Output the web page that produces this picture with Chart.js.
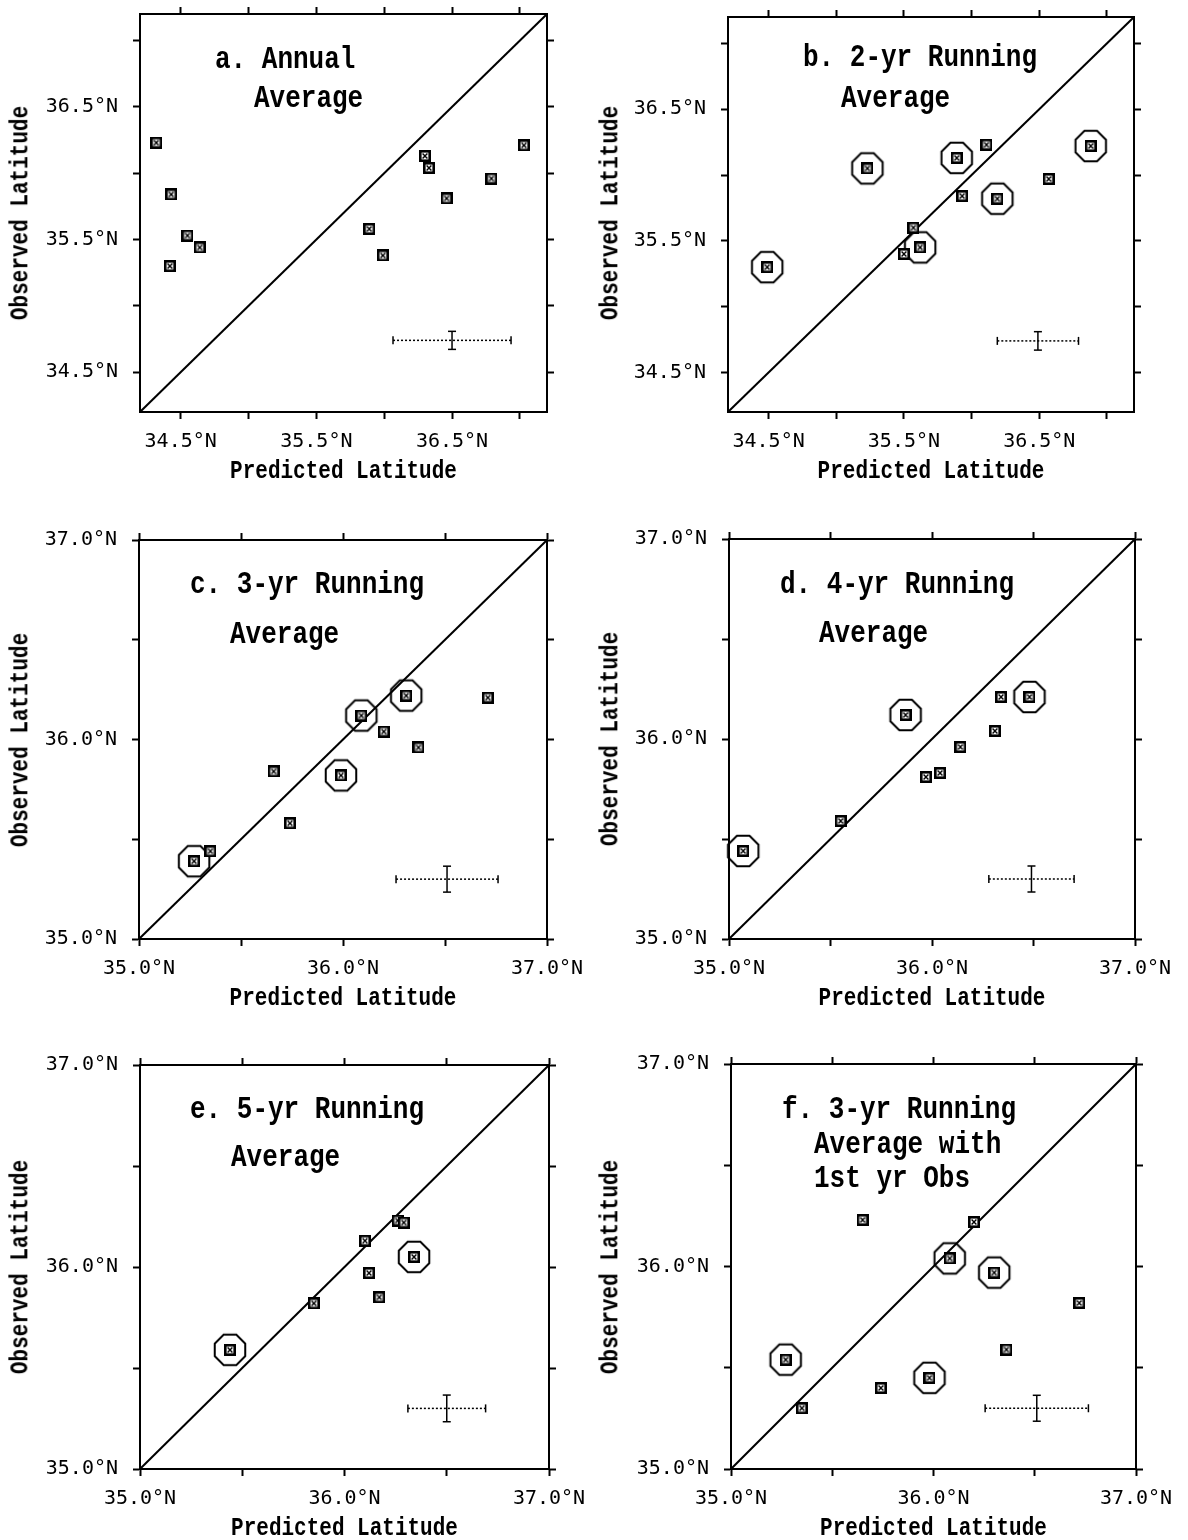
<!DOCTYPE html>
<html>
<head>
<meta charset="utf-8">
<script src="https://cdn.jsdelivr.net/npm/chart.js@4.4.0/dist/chart.umd.min.js"></script>
<style>
    body { margin: 0; background: #fff; }
    #page { position: relative; width: 1188px; height: 1540px; overflow: hidden; }
    .panel { position: absolute; width: 594px; }
    .label, .axis-title {
        position: absolute;
        font-family: 'Liberation Mono', monospace;
        font-weight: bold;
        white-space: pre;
        color: #000;
    }
    .label { font-size: 26px; line-height: 26px; transform: scaleY(1.2); }
    .axis-title { font-size: 21px; line-height: 22px; }
</style>
</head>
<body>
<div id="page"></div>
<script>
// Оси
const rangeAB = [34.2, 37.2];
const rangeCF = [35.0, 37.0];
const ticksAB = [34.5, 35.0, 35.5, 36.0, 36.5, 37.0];
const labelsAB = [34.5, 35.5, 36.5];
const ticksCF = [35.0, 35.5, 36.0, 36.5, 37.0];
const labelsCF = [35.0, 36.0, 37.0];

// a. Annual Average
const predA = [34.32, 34.43, 34.55, 34.64, 34.42, 35.89, 35.99, 36.30, 36.33, 36.46, 36.79, 37.03];
const obsA  = [36.23, 35.84, 35.53, 35.44, 35.30, 35.58, 35.38, 36.13, 36.04, 35.81, 35.96, 36.21];
const ringA = [0, 0, 0, 0, 0, 0, 0, 0, 0, 0, 0, 0];

// b. 2-yr
const predB = [34.49, 35.23, 35.89, 36.11, 35.93, 36.19, 36.57, 36.88, 35.57, 35.62, 35.50];
const obsB  = [35.30, 36.05, 36.13, 36.23, 35.84, 35.82, 35.97, 36.22, 35.60, 35.45, 35.40];
const ringB = [1, 1, 1, 0, 0, 1, 0, 1, 0, 1, 0];

// c. 3-yr
const predC = [35.27, 35.35, 35.66, 35.74, 35.99, 36.09, 36.20, 36.31, 36.37, 36.71];
const obsC  = [35.39, 35.44, 35.84, 35.58, 35.82, 36.12, 36.04, 36.22, 35.96, 36.21];
const ringC = [1, 0, 0, 0, 1, 1, 0, 1, 0, 0];

// d. 4-yr
const predD = [35.07, 35.55, 35.87, 35.97, 36.04, 36.14, 36.31, 36.34, 36.48];
const obsD  = [35.44, 35.59, 36.12, 35.81, 35.83, 35.96, 36.04, 36.21, 36.21];
const ringD = [1, 0, 1, 0, 0, 0, 0, 0, 1];

// e. 5-yr
const predE = [35.44, 35.85, 36.10, 36.12, 36.17, 36.26, 36.29, 36.34];
const obsE  = [35.59, 35.82, 36.13, 35.97, 35.85, 36.23, 36.22, 36.05];
const ringE = [1, 0, 0, 0, 0, 0, 0, 1];

// f. 3-yr with 1st yr Obs
const predF = [35.27, 35.35, 35.65, 35.74, 35.98, 36.08, 36.20, 36.30, 36.36, 36.72];
const obsF  = [35.54, 35.30, 36.23, 35.40, 35.45, 36.04, 36.22, 35.97, 35.59, 35.82];
const ringF = [1, 0, 0, 0, 1, 1, 0, 1, 0, 0];

// Крестик ошибок (a..f)
const errX  = [36.50, 36.49, 36.51, 36.49, 36.50, 36.51];
const errY  = [34.74, 34.74, 35.30, 35.30, 35.30, 35.30];
const errDX = [0.435, 0.30, 0.25, 0.21, 0.19, 0.255];
const errDY = [0.068, 0.07, 0.065, 0.065, 0.066, 0.064];

const titleA = ['a. Annual', 'Average'];
const titleB = ['b. 2-yr Running', 'Average'];
const titleC = ['c. 3-yr Running', 'Average'];
const titleD = ['d. 4-yr Running', 'Average'];
const titleE = ['e. 5-yr Running', 'Average'];
const titleF = ['f. 3-yr Running', 'Average with', '1st yr Obs'];
const xTitle = 'Predicted Latitude';
const yTitle = 'Observed Latitude';

const panels = [
    { pred: predA, obs: obsA, ring: ringA, range: rangeAB, ticks: ticksAB, labels: labelsAB, title: titleA,
      col: 0, top: 0, height: 500, box: [140, 14, 547, 412], text: [[215, 60], [254, 99]] },
    { pred: predB, obs: obsB, ring: ringB, range: rangeAB, ticks: ticksAB, labels: labelsAB, title: titleB,
      col: 594, top: 0, height: 500, box: [728, 14, 1134, 412], text: [[803, 58], [841, 99]] },
    { pred: predC, obs: obsC, ring: ringC, range: rangeCF, ticks: ticksCF, labels: labelsCF, title: titleC,
      col: 0, top: 500, height: 530, box: [139, 540, 547, 939], text: [[190, 585], [230, 635]] },
    { pred: predD, obs: obsD, ring: ringD, range: rangeCF, ticks: ticksCF, labels: labelsCF, title: titleD,
      col: 594, top: 500, height: 530, box: [729, 539, 1135, 939], text: [[780, 585], [819, 634]] },
    { pred: predE, obs: obsE, ring: ringE, range: rangeCF, ticks: ticksCF, labels: labelsCF, title: titleE,
      col: 0, top: 1030, height: 510, box: [140, 1065, 549, 1469], text: [[190, 1110], [231, 1158]] },
    { pred: predF, obs: obsF, ring: ringF, range: rangeCF, ticks: ticksCF, labels: labelsCF, title: titleF,
      col: 594, top: 1030, height: 510, box: [731, 1064, 1136, 1469], text: [[782, 1110], [814, 1145], [814, 1179]] }
];

const tickFont = { family: "'DejaVu Sans Mono', monospace", size: 20 };

// квадрат с крестиком
function makeBoxMark() {
    const c = document.createElement('canvas');
    c.width = 12; c.height = 12;
    const g = c.getContext('2d');
    g.fillStyle = '#000';
    g.fillRect(0, 0, 12, 12);
    g.fillStyle = '#fff';
    g.fillRect(2.6, 2.6, 6.8, 6.8);
    g.strokeStyle = '#000';
    g.lineWidth = 1.4;
    g.beginPath();
    g.moveTo(3.6, 3.6); g.lineTo(8.4, 8.4);
    g.moveTo(8.4, 3.6); g.lineTo(3.6, 8.4);
    g.stroke();
    return c;
}

// восьмиугольник вокруг точки
function makeOctMark() {
    const c = document.createElement('canvas');
    c.width = 38; c.height = 38;
    const g = c.getContext('2d');
    const R = 16.5;
    g.strokeStyle = '#000';
    g.lineWidth = 2;
    g.beginPath();
    for (let k = 0; k < 8; k++) {
        const a = Math.PI / 8 + k * Math.PI / 4;
        const px = 19 + R * Math.cos(a), py = 19 + R * Math.sin(a);
        if (k === 0) g.moveTo(px, py); else g.lineTo(px, py);
    }
    g.closePath();
    g.stroke();
    return c;
}

const boxMark = makeBoxMark();
const octMark = makeOctMark();
const page = document.getElementById('page');

function addText(text, x, y, cls, transform) {
    const div = document.createElement('div');
    div.className = cls;
    div.textContent = text;
    div.style.left = x + 'px';
    div.style.top = y + 'px';
    if (transform) div.style.transform = transform;
    page.appendChild(div);
}

function makeChart(p, i) {
    const wrap = document.createElement('div');
    wrap.className = 'panel';
    wrap.style.left = p.col + 'px';
    wrap.style.top = p.top + 'px';
    wrap.style.height = p.height + 'px';
    const canvas = document.createElement('canvas');
    wrap.appendChild(canvas);
    page.appendChild(wrap);

    const [l, t, r, b] = p.box;
    const leftW = l - p.col;
    const rightW = p.col + 594 - r;
    const topH = t - p.top;
    const botH = p.top + p.height - b;

    const setTicks = axis => { axis.ticks = p.ticks.map(v => ({ value: v })); };
    const lab = v => p.labels.some(x => Math.abs(x - v) < 1e-6) ? v.toFixed(1) + '°N' : '';
    const fitX = h => s => { s.height = h; s.paddingLeft = 0; s.paddingRight = 0; };
    const fitY = w => s => { s.width = w; s.paddingTop = 0; s.paddingBottom = 0; };
    const grid = { display: true, drawOnChartArea: false, drawTicks: true, tickLength: 7, tickWidth: 2, tickColor: '#000', color: '#000' };
    const border = { display: true, color: '#000', width: 2 };

    const points = p.pred.map((x, k) => ({ x: x, y: p.obs[k] }));
    const ringed = points.filter((pt, k) => p.ring[k]);
    const cx = errX[i], cy = errY[i], dx = errDX[i], dy = errDY[i];

    new Chart(canvas, {
        type: 'scatter',
        data: {
            datasets: [
                { data: points, pointStyle: boxMark, pointRadius: 6, clip: false },
                { data: ringed, pointStyle: octMark, pointRadius: 16, clip: false },
                {
                    data: [{ x: cx - dx, y: cy }, { x: cx + dx, y: cy }],
                    showLine: true, borderColor: '#000', borderWidth: 1.5, borderDash: [2, 2],
                    pointStyle: 'line', pointRotation: 90, pointRadius: 4,
                    pointBorderColor: '#000', pointBorderWidth: 1.5
                },
                {
                    data: [{ x: cx, y: cy - dy }, { x: cx, y: cy + dy }],
                    showLine: true, borderColor: '#000', borderWidth: 1.5,
                    pointStyle: 'line', pointRotation: 0, pointRadius: 4,
                    pointBorderColor: '#000', pointBorderWidth: 1.5
                },
                {
                    data: [{ x: p.range[0], y: p.range[0] }, { x: p.range[1], y: p.range[1] }],
                    showLine: true, borderColor: '#000', borderWidth: 2, pointRadius: 0
                }
            ]
        },
        options: {
            responsive: true,
            maintainAspectRatio: false,
            animation: false,
            events: [],
            layout: { padding: 0 },
            plugins: { legend: { display: false }, tooltip: { enabled: false } },
            scales: {
                x: {
                    type: 'linear', position: 'bottom', min: p.range[0], max: p.range[1],
                    afterBuildTicks: setTicks, afterFit: fitX(botH),
                    grid: grid, border: border,
                    ticks: { font: tickFont, color: '#000', padding: 11, maxRotation: 0, autoSkip: false, callback: lab }
                },
                x2: {
                    type: 'linear', position: 'top', min: p.range[0], max: p.range[1],
                    afterBuildTicks: setTicks, afterFit: fitX(topH),
                    grid: grid, border: border,
                    ticks: { autoSkip: false, callback: () => '' }
                },
                y: {
                    type: 'linear', position: 'left', min: p.range[0], max: p.range[1],
                    afterBuildTicks: setTicks, afterFit: fitY(leftW),
                    grid: grid, border: border,
                    ticks: { font: tickFont, color: '#000', padding: 15, autoSkip: false, callback: lab }
                },
                y2: {
                    type: 'linear', position: 'right', min: p.range[0], max: p.range[1],
                    afterBuildTicks: setTicks, afterFit: fitY(rightW),
                    grid: grid, border: border,
                    ticks: { autoSkip: false, callback: () => '' }
                }
            }
        }
    });

    // подписи осей
    addText(xTitle, (l + r) / 2, b + 60 - 11, 'axis-title', 'translateX(-50%) scaleY(1.22)');
    addText(yTitle, p.col + (p.col === 0 ? 20.5 : 16.5), (t + b) / 2 - 11, 'axis-title',
        'translateX(-50%) rotate(-90deg) scaleY(1.22)');

    // подпись панели
    p.title.forEach((line, k) => {
        addText(line, p.text[k][0], p.text[k][1] - 13, 'label');
    });
}

panels.forEach(makeChart);
</script>
</body>
</html>
